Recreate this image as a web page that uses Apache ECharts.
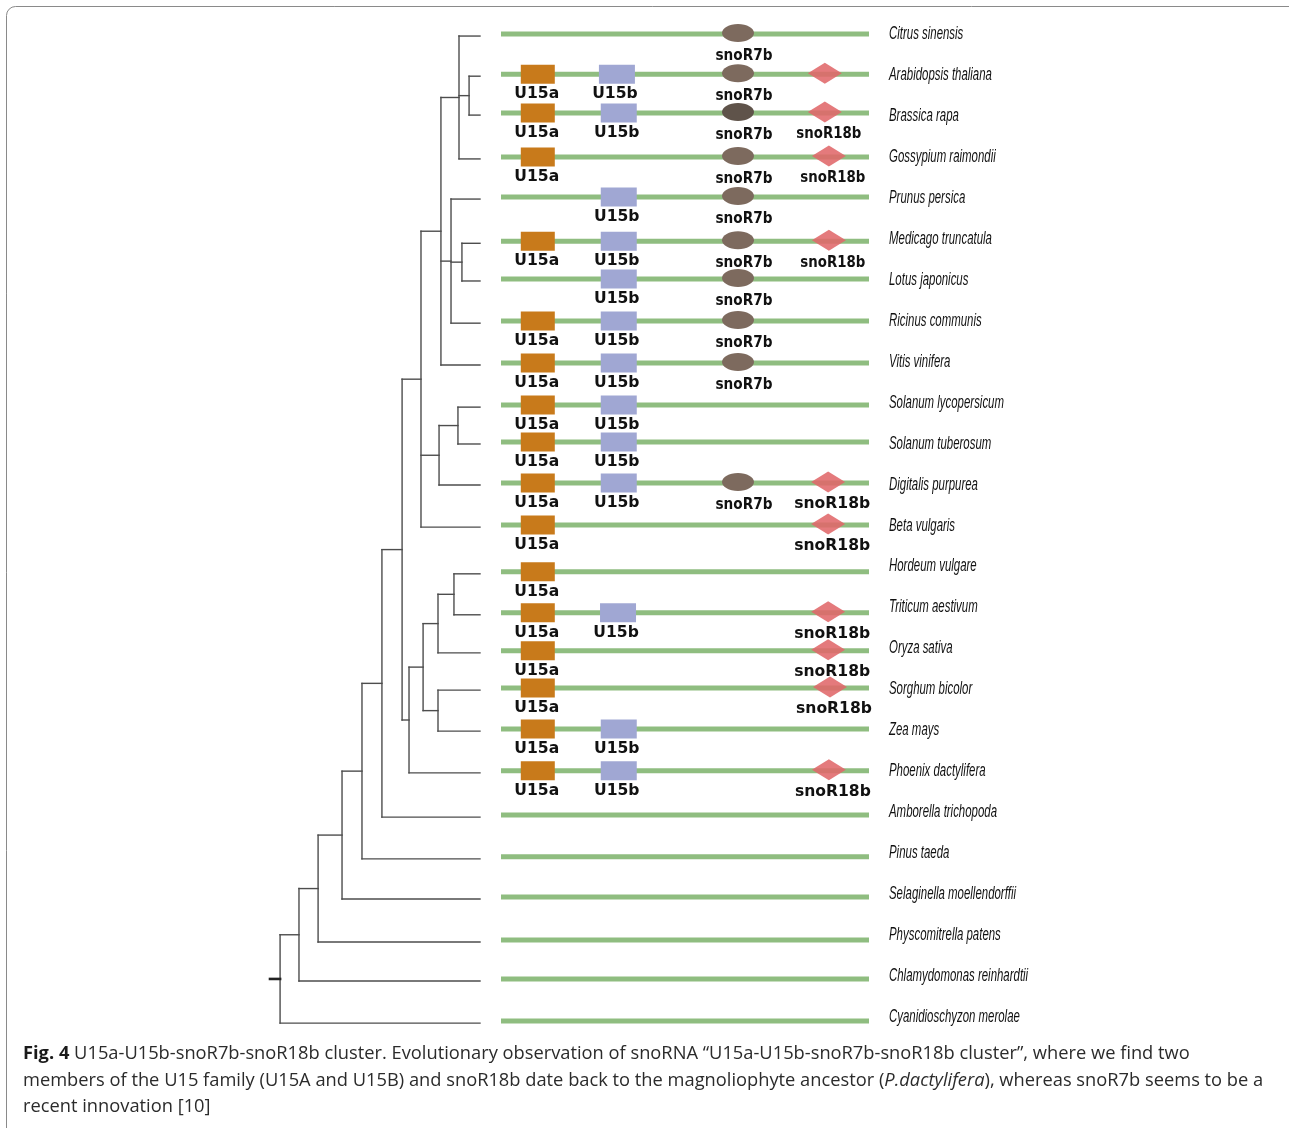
<!DOCTYPE html>
<html><head><meta charset="utf-8">
<script src="https://cdn.jsdelivr.net/npm/echarts@6/dist/echarts.min.js"></script>
<style>html,body{margin:0;padding:0;background:#fff;} #c{width:1289px;height:1128px;}</style>
</head><body><div id="c"></div>
<script>
// ---------------- data ----------------
const species = ['Citrus sinensis','Arabidopsis thaliana','Brassica rapa','Gossypium raimondii','Prunus persica',
  'Medicago truncatula','Lotus japonicus','Ricinus communis','Vitis vinifera','Solanum lycopersicum',
  'Solanum tuberosum','Digitalis purpurea','Beta vulgaris','Hordeum vulgare','Triticum aestivum',
  'Oryza sativa','Sorghum bicolor','Zea mays','Phoenix dactylifera','Amborella trichopoda',
  'Pinus taeda','Selaginella moellendorffii','Physcomitrella patens','Chlamydomonas reinhardtii','Cyanidioschyzon merolae'];
// vertical position of each locus track (row units)
const trackRow = [0.00,0.98,1.93,3.00,3.98,5.06,5.98,7.01,8.03,9.06,9.96,10.96,11.99,13.13,14.13,15.06,15.97,16.97,17.99,19.07,20.09,21.07,22.12,23.07,24.10];
// genes: [row, relative position along the locus (0-100)]
const u15a = [[1,10],[2,10],[3,10],[5,10],[7,10],[8,10],[9,10],[10,10],[11,10],[12,10],[13,10],[14,10],[15,10],[16,10],[17,10],[18,10]];
const u15b = [[1,31.5],[2,32],[4,32],[5,32],[6,32],[7,32],[8,32],[9,32],[10,32],[11,32],[14,31.8],[17,32],[18,32]];
const snoR7b = [[0,64.4],[1,64.4],[2,64.4],[3,64.4],[4,64.4],[5,64.4],[6,64.4],[7,64.4],[8,64.4],[11,64.4]];
const snoR18b = [[1,88.0],[2,88.0],[3,89.1],[5,89.1],[11,88.9],[12,88.9],[14,88.9],[15,88.9],[16,89.4],[18,89.1]];
const snoR18bUnlabelled = [1];
// tree: [node depth, children...]; numbers are species indices (tips at depth 1)
const tree = [0.048,
  [0.138,
    [0.229,
      [0.343,
        [0.438,
          [0.533,
            [0.629,
              [0.719,
                [0.814,
                  [0.900, 0, [0.948, 1, 2], 3],
                  [0.862, 4, [0.914, 5, 6], 7],
                  8],
                [0.805, [0.895, 9, 10], 11],
                12],
              [0.662,
                [0.729,
                  [0.800, [0.876, 13, 14], 15],
                  [0.800, 16, 17]],
                18]],
            19],
          20],
        21],
      22],
    23],
  24];

// ---------------- tree layout ----------------
const segs = [];
function layout(node){
  if (typeof node === 'number') return {d:1, y:trackRow[node] + 0.05};
  const d = node[0];
  const kids = node.slice(1).map(layout);
  const y = (kids[0].y + kids[kids.length-1].y) / 2;
  segs.push([d, kids[0].y, d, kids[kids.length-1].y, 0]);
  kids.forEach(k => segs.push([d, k.y, k.d, k.y, 0]));
  return {d, y};
}
const rootPos = layout(tree);
segs.push([0, rootPos.y, rootPos.d, rootPos.y, 1]);

const GREEN = '#8fbd80', ORANGE = '#c87a1b', LAV = '#a0a7d3', BROWN = '#7d6a5e', RED = 'rgba(224,104,106,0.88)';
const LABEL_FONT = 'bold 15px "DejaVu Sans"';

function labelEl(x, y, text, sx){
  return {type:'text', x:x, y:y, scaleX:sx, z2:5,
    style:{text:text, font:LABEL_FONT, fill:'#111', align:'center', verticalAlign:'middle', textAlign:'center', textVerticalAlign:'middle'}};
}

function geneSeries(list, kind){
  return {
    type:'custom', xAxisIndex:1, yAxisIndex:1, z:3,
    data: list.map(([row,pos]) => [pos, trackRow[row], row]),
    renderItem: function(params, api){
      const p = api.coord([api.value(0), api.value(1)]);
      const row = api.value(2);
      const kids = [];
      if (kind === 'u15a' || kind === 'u15b'){
        const w = kind === 'u15a' ? 34 : 36, h = 19;
        kids.push({type:'rect', shape:{x:p[0]-w/2, y:p[1]-h/2, width:w, height:h}, style:{fill: kind==='u15a'?ORANGE:LAV}});
        kids.push(labelEl(p[0] - (kind==='u15a'?1:2), p[1] + 20, kind==='u15a'?'U15a':'U15b', 1.04));
      } else if (kind === 'r7'){
        kids.push({type:'ellipse', shape:{cx:p[0], cy:p[1]-1, rx:16, ry:9}, style:{fill: row===2 ? '#5f534a' : BROWN}});
        kids.push(labelEl(p[0] + 6, p[1] + 22, 'snoR7b', 0.91));
      } else {
        kids.push({type:'polygon', shape:{points:[[p[0]-17,p[1]-1],[p[0],p[1]-11.5],[p[0]+17,p[1]-1],[p[0],p[1]+9.5]]}, style:{fill:RED}});
        if (snoR18bUnlabelled.indexOf(row) < 0)
          kids.push(labelEl(p[0] + 4, p[1] + 21.5, 'snoR18b', row < 6 ? 0.89 : 1.04));
      }
      return {type:'group', children:kids};
    }
  };
}

const chart = echarts.init(document.getElementById('c'), null, {renderer:'canvas'});
chart.setOption({
  animation:false,
  backgroundColor:'#fff',
  graphic:[{type:'rect', silent:true, shape:{x:6.5, y:6.5, width:1330, height:1170, r:9}, style:{fill:'none', stroke:'#8a8a8a', lineWidth:1}}],
  title:{
    left:23, top:1041, padding:0,
    text:'{b|Fig. 4} U15a-U15b-snoR7b-snoR18b cluster. Evolutionary observation of snoRNA \u201cU15a-U15b-snoR7b-snoR18b cluster\u201d, where we find two\nmembers of the U15 family (U15A and U15B) and snoR18b date back to the magnoliophyte ancestor ({i|P.dactylifera}), whereas snoR7b seems to be a\nrecent innovation [10]',
    textStyle:{fontFamily:'Open Sans', fontSize:18.3, fontWeight:'normal', color:'#2b2b2b', lineHeight:26.5,
      rich:{
        b:{fontFamily:'Open Sans', fontSize:18.3, fontWeight:'bold', color:'#1a1a1a', lineHeight:26.5},
        i:{fontFamily:'Open Sans', fontSize:18.3, fontStyle:'italic', color:'#2b2b2b', lineHeight:26.5}
      }}
  },
  grid:[{left:270, width:210, top:34, height:983}, {left:501, width:368, top:34, height:983}],
  xAxis:[{gridIndex:0, type:'value', min:0, max:1, show:false}, {gridIndex:1, type:'value', min:0, max:100, show:false}],
  yAxis:[{gridIndex:0, type:'value', min:0, max:24, inverse:true, show:false}, {gridIndex:1, type:'value', min:0, max:24, inverse:true, show:false}],
  series:[
    { // tree branches
      type:'custom', xAxisIndex:0, yAxisIndex:0, z:2,
      data: segs,
      renderItem: function(params, api){
        const a = api.coord([api.value(0), api.value(1)]);
        const b = api.coord([api.value(2), api.value(3)]);
        const root = api.value(4) === 1;
        return {type:'line', shape:{x1:a[0], y1:a[1], x2:b[0], y2:b[1]},
          style:{stroke: root ? '#222' : '#4d4d4d', lineWidth: root ? 2.6 : 1.4, lineCap:'square'}};
      }
    },
    { // locus tracks
      type:'custom', xAxisIndex:1, yAxisIndex:1, z:2,
      data: trackRow.map((r,i) => [0, 100, r, i]),
      renderItem: function(params, api){
        const a = api.coord([api.value(0), api.value(2)]);
        const b = api.coord([api.value(1), api.value(2)]);
        return {type:'line', shape:{x1:a[0], y1:a[1], x2:b[0], y2:b[1]}, style:{stroke:GREEN, lineWidth:5}};
      }
    },
    geneSeries(u15a, 'u15a'),
    geneSeries(u15b, 'u15b'),
    geneSeries(snoR7b, 'r7'),
    geneSeries(snoR18b, 'r18'),
    { // species names
      type:'custom', xAxisIndex:1, yAxisIndex:1, z:4,
      data: species.map((n,i) => [100, i]),
      renderItem: function(params, api){
        const p = api.coord([api.value(0), api.value(1)]);
        return {type:'text', x:p[0] + 20, y:p[1], scaleX:0.635,
          style:{text:species[params.dataIndex], font:'italic 18px "Liberation Sans"', fill:'#111',
            align:'left', verticalAlign:'middle', textAlign:'left', textVerticalAlign:'middle'}};
      }
    }
  ]
});
</script>
</body></html>
